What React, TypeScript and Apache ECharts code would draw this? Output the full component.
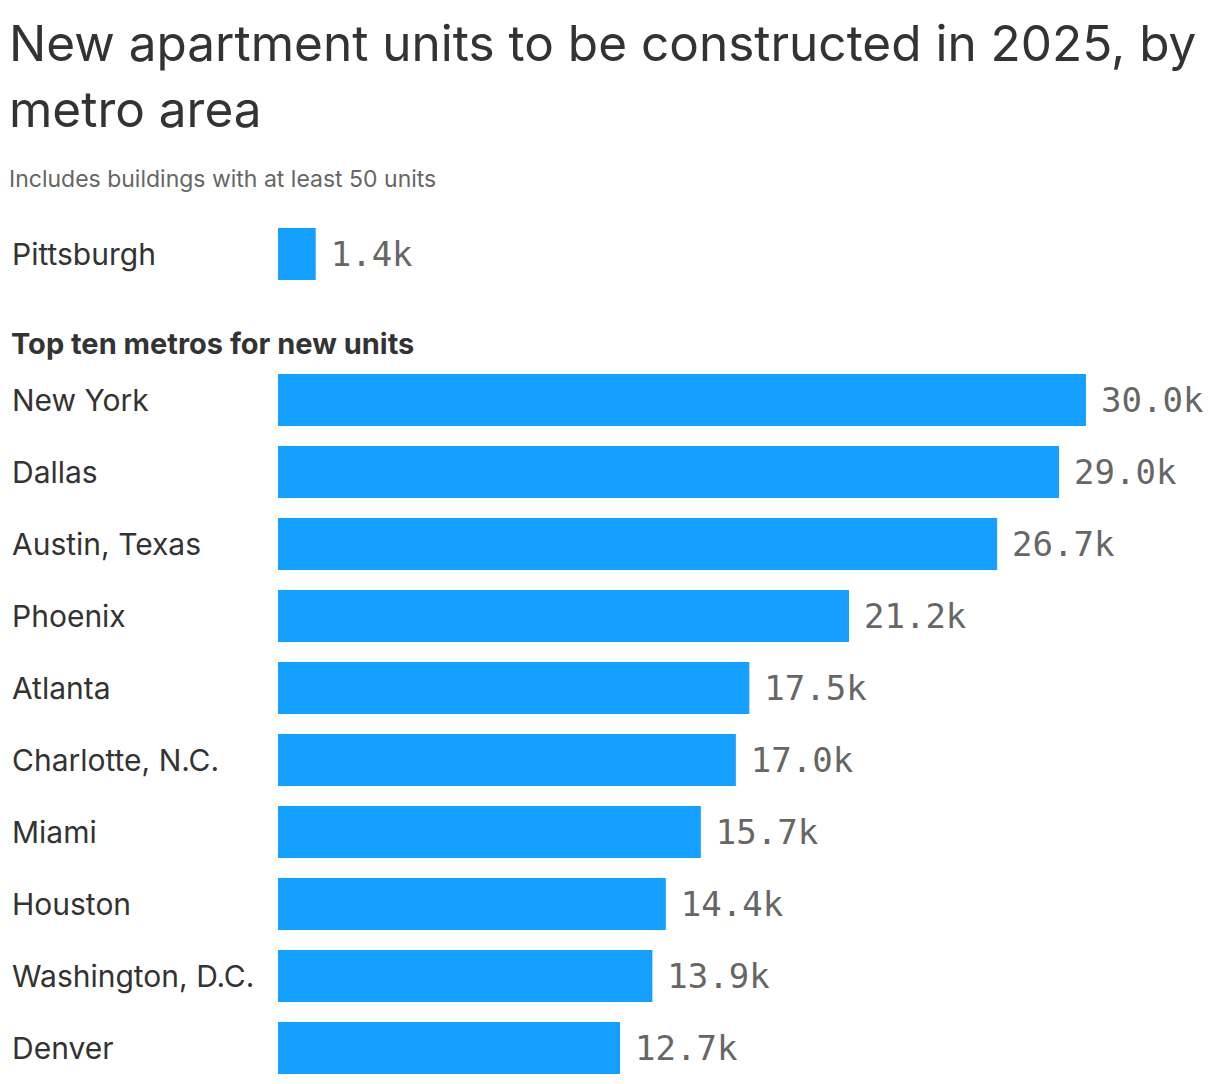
import React, { useEffect, useRef } from "react";
import * as echarts from "echarts";

const titleText = "New apartment units to be constructed in 2025, by\nmetro area";
const subtitleText = "Includes buildings with at least 50 units";
const sectionText = "Top ten metros for new units";

const highlightCategories = ["Pittsburgh"];
const highlightValues = [1.4];

const topCategories = [
  "New York",
  "Dallas",
  "Austin, Texas",
  "Phoenix",
  "Atlanta",
  "Charlotte, N.C.",
  "Miami",
  "Houston",
  "Washington, D.C.",
  "Denver",
];
const topValues = [30.0, 29.0, 26.7, 21.2, 17.5, 17.0, 15.7, 14.4, 13.9, 12.7];

const BAR = "#15a0ff";
const SANS = "Inter, 'Noto Sans', sans-serif";
const MONO = "'DejaVu Sans Mono', 'Liberation Mono', monospace";

export default function App() {
  const ref = useRef<HTMLDivElement>(null);
  useEffect(() => {
    if (!ref.current) return;
    const chart = echarts.init(ref.current, undefined, { renderer: "svg" });
    const catAxis = (data: string[]) => ({
      type: "category",
      data,
      inverse: true,
      axisLine: { show: false },
      axisTick: { show: false },
      splitLine: { show: false },
      axisLabel: {
        align: "left",
        margin: 266,
        fontFamily: SANS,
        fontSize: 30,
        color: "#333",
        verticalAlign: "middle",
        padding: [0, 0, 6, 0],
      },
    });
    const valAxis = {
      type: "value",
      min: 0,
      max: 30,
      show: false,
    };
    const label = {
      show: true,
      position: "right",
      distance: 15,
      fontFamily: MONO,
      fontSize: 34,
      color: "#666",
      formatter: (p: any) => p.value.toFixed(1) + "k",
    };
    chart.setOption({
      animation: false,
      backgroundColor: "#fff",
      title: [
        {
          text: titleText,
          left: 9,
          top: 10,
          padding: 0,
          textStyle: {
            fontFamily: SANS,
            fontSize: 49.5,
            fontWeight: "normal",
            color: "#333",
            lineHeight: 66,
          },
        },
        {
          text: subtitleText,
          left: 9,
          top: 167,
          padding: 0,
          textStyle: {
            fontFamily: SANS,
            fontSize: 23,
            fontWeight: "normal",
            color: "#666",
          },
        },
        {
          text: sectionText,
          left: 11,
          top: 329,
          padding: 0,
          textStyle: {
            fontFamily: SANS,
            fontSize: 29,
            fontWeight: "bold",
            color: "#333",
          },
        },
      ],
      grid: [
        { left: 278, right: 134, top: 218, height: 72 },
        { left: 278, right: 134, top: 364, height: 720 },
      ],
      xAxis: [
        { ...valAxis, gridIndex: 0 },
        { ...valAxis, gridIndex: 1 },
      ],
      yAxis: [
        { ...catAxis(highlightCategories), gridIndex: 0 },
        { ...catAxis(topCategories), gridIndex: 1 },
      ],
      series: [
        {
          type: "bar",
          xAxisIndex: 0,
          yAxisIndex: 0,
          data: highlightValues,
          barWidth: 52,
          itemStyle: { color: BAR },
          label,
        },
        {
          type: "bar",
          xAxisIndex: 1,
          yAxisIndex: 1,
          data: topValues,
          barWidth: 52,
          itemStyle: { color: BAR },
          label,
        },
      ],
    });
    return () => chart.dispose();
  }, []);
  return (
    <div
      ref={ref}
      style={{ position: "absolute", left: 0, top: 0, width: 1220, height: 1084 }}
    />
  );
}
